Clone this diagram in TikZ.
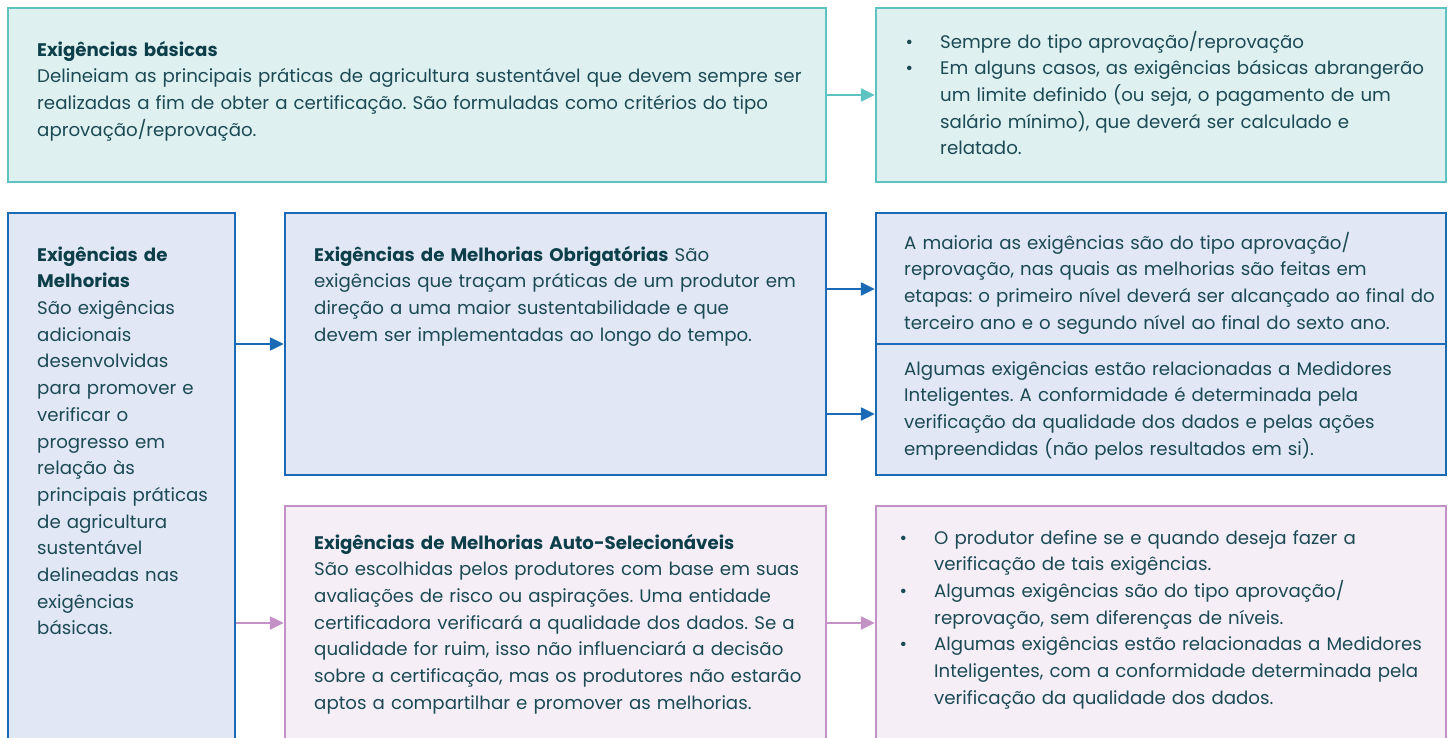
\documentclass[tikz,border=0pt]{standalone}
\usepackage{fontspec}
\setmainfont{Poppins}
\usetikzlibrary{arrows.meta}
\definecolor{tealline}{HTML}{5CC3C1}
\definecolor{tealfill}{HTML}{DFF0F0}
\definecolor{blueline}{HTML}{1B6AB6}
\definecolor{bluefill}{HTML}{E1E7F4}
\definecolor{pinkline}{HTML}{C391C6}
\definecolor{pinkfill}{HTML}{F5EEF6}
\definecolor{txt}{HTML}{1B4A55}
\definecolor{ttl}{HTML}{0D3F4A}
\newcommand{\bul}{\leavevmode\llap{•\hspace{27pt}}}
\newcommand{\ttlf}[1]{{\bfseries\color{ttl}#1}}
\begin{document}
\begin{tikzpicture}[x=1pt,y=-1pt,
  boxbase/.style={rectangle, inner sep=0pt, line width=2.5pt},
  tealbox/.style={boxbase, draw=tealline, fill=tealfill},
  bluebox/.style={boxbase, draw=blueline, fill=bluefill},
  pinkbox/.style={boxbase, draw=pinkline, fill=pinkfill},
  txtnode/.style={anchor=north west, inner sep=0pt, text width=900pt, align=left, text=txt,
    font=\fontsize{18.2}{26.7}\selectfont\frenchspacing},
  arrbase/.style={line width=2.5pt, -{Triangle[length=14pt,width=13pt]}},
  tarr/.style={arrbase, draw=tealline, fill=tealline},
  barr/.style={arrbase, draw=blueline, fill=blueline},
  parr/.style={arrbase, draw=pinkline, fill=pinkline}]
\useasboundingbox (0,0) rectangle (1450,738);
\clip (0,0) rectangle (1450,738);
\fill[white] (0,0) rectangle (1450,738);
% boxes
\node[tealbox, minimum width=818pt, minimum height=174pt] (A) at (417,95) {};
\node[tealbox, minimum width=570pt, minimum height=174pt] (B) at (1161,95) {};
\node[bluebox, minimum width=227pt, minimum height=537pt] (C) at (121.5,481.5) {};
\node[bluebox, minimum width=541pt, minimum height=262pt] (D) at (555.5,344) {};
\node[bluebox, minimum width=570pt, minimum height=131pt] (E1) at (1161,278.5) {};
\node[bluebox, minimum width=570pt, minimum height=131pt] (E2) at (1161,409.5) {};
\node[pinkbox, minimum width=541pt, minimum height=234pt] (F) at (555.5,623) {};
\node[pinkbox, minimum width=570pt, minimum height=234pt] (G) at (1161,623) {};
% arrows
\draw[tarr] (A.east) -- (B.west);
\draw[barr] (C.east |- D.west) -- (D.west);
\draw[barr] ([yshift=-10.5pt]D.east |- E1.west) -- ([yshift=-10.5pt]E1.west);
\draw[barr] ([yshift=-4.5pt]D.east |- E2.west) -- ([yshift=-4.5pt]E2.west);
\draw[parr] (C.east |- F.west) -- (F.west);
\draw[parr] (F.east) -- (G.west);
% texts
\node[txtnode] (tA) at (37,37.3) {\strut\ttlf{Exigências básicas}\\
Delineiam as principais práticas de agricultura sustentável que devem sempre ser\\
realizadas a fim de obter a certificação. São formuladas como critérios do tipo\\
aprovação/reprovação.};
\node[txtnode] (tB) at (940,29.3) {\strut\bul Sempre do tipo aprovação/reprovação\\
\bul Em alguns casos, as exigências básicas abrangerão\\
um limite definido (ou seja, o pagamento de um\\
salário mínimo), que deverá ser calculado e\\
relatado.};
\node[txtnode] (tC) at (37,242.3) {\strut\ttlf{Exigências de}\\
\ttlf{Melhorias}\\
São exigências\\
adicionais\\
desenvolvidas\\
para promover e\\
verificar o\\
progresso em\\
relação às\\
principais práticas\\
de agricultura\\
sustentável\\
delineadas nas\\
exigências\\
básicas.};
\node[txtnode] (tD) at (314,242.3) {\strut\ttlf{Exigências de Melhorias Obrigatórias} São\\
exigências que traçam práticas de um produtor em\\
direção a uma maior sustentabilidade e que\\
devem ser implementadas ao longo do tempo.};
\node[txtnode] (tE1) at (904,230.3) {\strut A maioria as exigências são do tipo aprovação/\\
reprovação, nas quais as melhorias são feitas em\\
etapas: o primeiro nível deverá ser alcançado ao final do\\
terceiro ano e o segundo nível ao final do sexto ano.};
\node[txtnode] (tE2) at (904,356.3) {\strut Algumas exigências estão relacionadas a Medidores\\
Inteligentes. A conformidade é determinada pela\\
verificação da qualidade dos dados e pelas ações\\
empreendidas (não pelos resultados em si).};
\node[txtnode] (tF) at (314,530.3) {\strut\ttlf{Exigências de Melhorias Auto-Selecionáveis}\\
São escolhidas pelos produtores com base em suas\\
avaliações de risco ou aspirações. Uma entidade\\
certificadora verificará a qualidade dos dados. Se a\\
qualidade for ruim, isso não influenciará a decisão\\
sobre a certificação, mas os produtores não estarão\\
aptos a compartilhar e promover as melhorias.};
\node[txtnode] (tG) at (934,525.3) {\strut\bul O produtor define se e quando deseja fazer a\\
verificação de tais exigências.\\
\bul Algumas exigências são do tipo aprovação/\\
reprovação, sem diferenças de níveis.\\
\bul Algumas exigências estão relacionadas a Medidores\\
Inteligentes, com a conformidade determinada pela\\
verificação da qualidade dos dados.};
\end{tikzpicture}
\end{document}
